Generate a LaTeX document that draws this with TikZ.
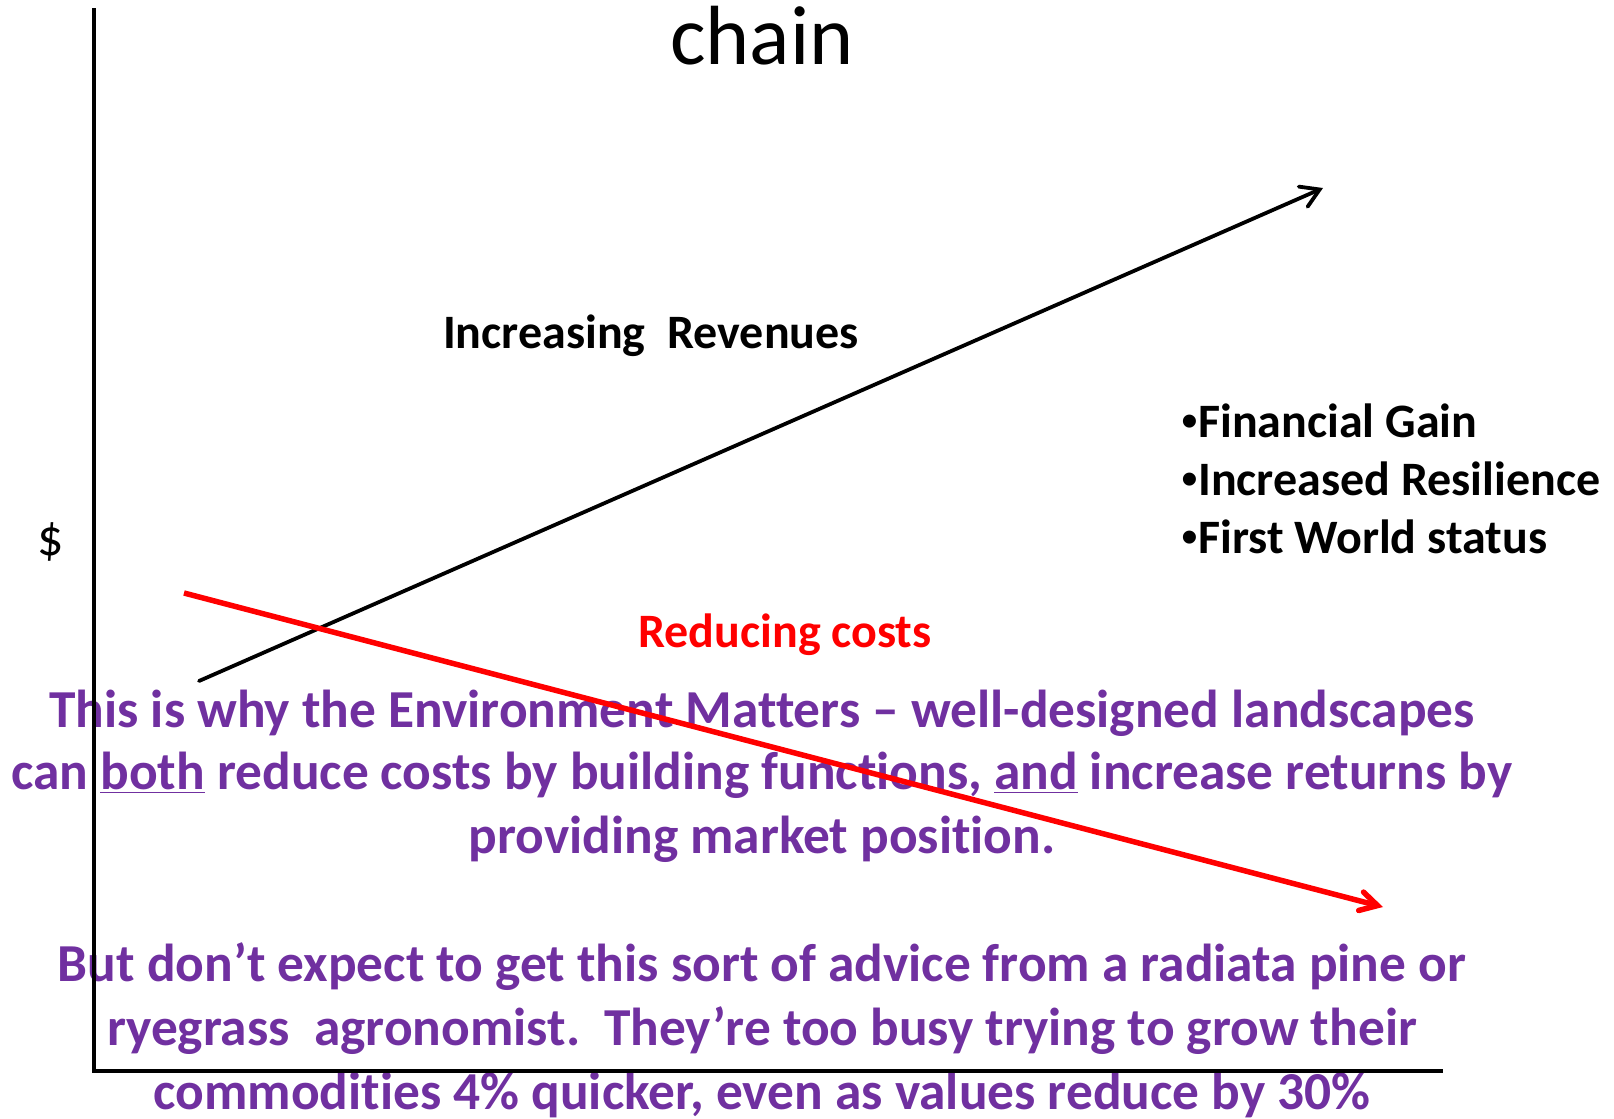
\documentclass[tikz,border=0pt]{standalone}
\usepackage{fontspec}
\setmainfont[Ligatures={NoCommon,TeX}]{Carlito}
\newfontfamily\bulletfont{Liberation Sans}
\usetikzlibrary{arrows.meta}
\definecolor{purp}{HTML}{7030A0}
\definecolor{redc}{HTML}{FF0000}
\newcommand{\bul}{{\bulletfont\mdseries •}}
\begin{document}
\begin{tikzpicture}[x=0.5pt,y=-0.5pt,
  lbl/.style={inner sep=0pt, anchor=base},
  titletxt/.style={lbl, font=\fontsize{42}{50}\selectfont},
  midtxt/.style={lbl, font=\bfseries\fontsize{24}{29}\selectfont},
  plaintxt/.style={lbl, font=\fontsize{26}{31}\selectfont},
  msgtxt/.style={lbl, font=\bfseries\fontsize{26.7}{32}\selectfont, text=purp},
  axisline/.style={line width=2.2pt, line join=miter},
  revline/.style={line width=1.9pt, line cap=round, -{Straight Barb[length=9pt,width=11pt,line cap=round]}},
  costline/.style={line width=2.75pt, draw=redc, -{Straight Barb[length=8.5pt,width=9.5pt,line cap=round]}}
]
\useasboundingbox (0,0) rectangle (1614,1119);
% texts
\node[titletxt] (title) at (762,64) {chain};
\node[midtxt] (rev) at (651,348) {Increasing\ \ Revenues};
\node[plaintxt] (dollar) at (51,555) {\$};
\node[midtxt, anchor=base west] (b1) at (1181,437) {\bul Financial Gain};
\node[midtxt, anchor=base west] (b2) at (1181,495) {\bul Increased Resilience};
\node[midtxt, anchor=base west] (b3) at (1181,553) {\bul First World status};
\node[midtxt, text=redc] (cost) at (785,647) {Reducing costs};
\node[msgtxt] (m1) at (762,727) {This is why the Environment Matters – well-designed landscapes};
\node[msgtxt] (m2) at (762,789) {can \underline{both} reduce costs by building functions, \underline{and} increase returns by};
\node[msgtxt] (m3) at (762,853) {providing market position.};
\node[msgtxt] (m4) at (762,981) {But don’t expect to get this sort of advice from a radiata pine or};
\node[msgtxt] (m5) at (762,1045) {ryegrass\ \ agronomist.\ \ They’re too busy trying to grow their};
\node[msgtxt] (m6) at (762,1109) {commodities 4\% quicker, even as values reduce by 30\%};
% axes
\coordinate (ytop) at (94,8);
\coordinate (origin) at (94,1071);
\coordinate (xend) at (1443,1071);
\draw[axisline] (ytop) -- (origin) -- (xend);
% trend lines
\coordinate (revS) at (199,681);
\coordinate (revE) at (1323,188);
\coordinate (costS) at (184,593);
\coordinate (costE) at (1383,907);
\draw[revline] (revS) -- (revE);
\draw[costline] (costS) -- (costE);
\end{tikzpicture}
\end{document}
